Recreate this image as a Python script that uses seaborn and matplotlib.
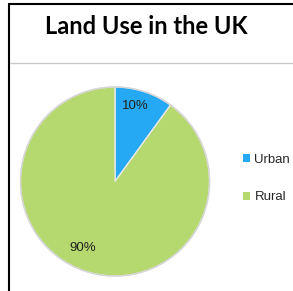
import matplotlib
matplotlib.use("Agg")
import matplotlib.pyplot as plt
import seaborn as sns
from matplotlib.lines import Line2D
from matplotlib.patches import Patch

# Data
categories = ["Urban", "Rural"]
shares = [10, 90]
colours = ["#26a9f4", "#b5d86f"]

W, H = 293, 291

sns.set_theme(style="white")
plt.rcParams['font.family'] = ['Liberation Sans', 'DejaVu Sans']

fig = plt.figure(figsize=(W / 100, H / 100), dpi=100)
fig.patch.set_facecolor("white")

# frame lines
fig.add_artist(Line2D([9.5 / W, 9.5 / W], [0, 1 - 4 / H], color="black", lw=1.5))
fig.add_artist(Line2D([9.5 / W, 1], [1 - 4 / H, 1 - 4 / H], color="black", lw=1.5))
fig.add_artist(Line2D([10 / W, 1], [1 - 63 / H, 1 - 63 / H], color="#c8c8c8", lw=1))

fig.text(146 / W, 1 - 27 / H, "Land Use in the UK", ha="center", va="center",
         fontsize=17, fontweight="bold", family=["Lato", "DejaVu Sans"], color="black")

# pie
cx, cy, r = 115, 181.5, 95.5
ax = fig.add_axes([(cx - r) / W, 1 - (cy + r) / H, 2 * r / W, 2 * r / H])
wedges, texts, autotexts = ax.pie(
    shares, colors=colours, startangle=90, counterclock=False,
    autopct="%d%%", pctdistance=0.8, radius=1,
    wedgeprops=dict(edgecolor="#e8e8e8", linewidth=1),
    textprops=dict(fontsize=9.5, color="#222222"))
autotexts[0].set_position((0.22, 0.80))
autotexts[1].set_position((-0.34, -0.70))
ax.add_patch(plt.Circle((0, 0), 1.0, fill=False, edgecolor="#d5d5d5", lw=1))
ax.set_xlim(-1.01, 1.01)
ax.set_ylim(-1.01, 1.01)
ax.set_aspect("equal")
ax.axis("off")

handles = [Patch(facecolor=c, edgecolor="none") for c in colours]
fig.legend(handles, categories, loc="center left",
           bbox_to_anchor=(236 / W, 1 - 178.5 / H), frameon=False,
           fontsize=9.5, handlelength=0.55, handleheight=0.55, handletextpad=0.35,
           labelspacing=1.95, borderpad=0)

fig.savefig("out.png", dpi=100)
